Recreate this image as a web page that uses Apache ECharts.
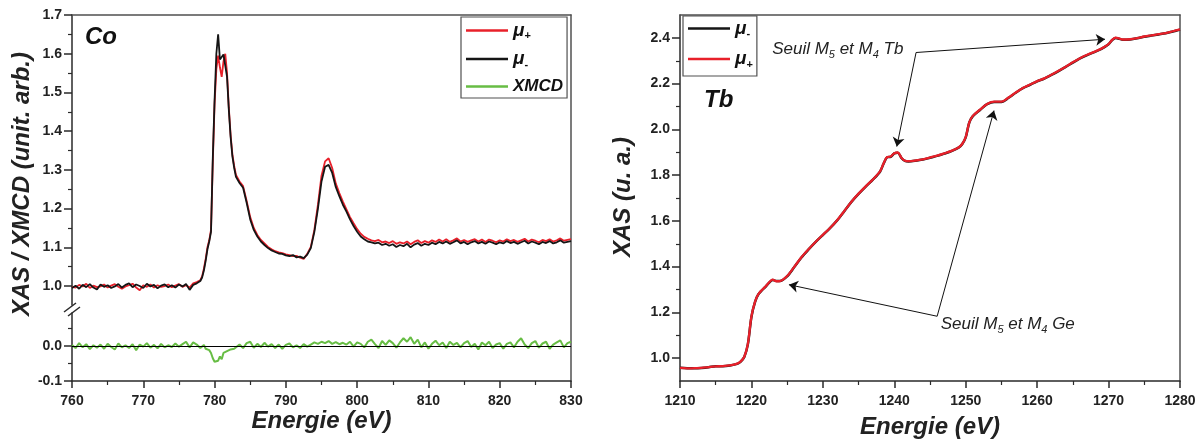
<!DOCTYPE html>
<html><head><meta charset="utf-8">
<script src="https://cdn.jsdelivr.net/npm/echarts@6/dist/echarts.min.js"></script>
<style>html,body{margin:0;padding:0;background:#fff}#c{width:1203px;height:445px}</style>
</head><body><div id="c"></div>
<script>
// ---------- Co L-edge data ----------
const coEnergy = [760,760.5,761,761.5,762,762.5,763,763.5,764,764.5,765,765.5,766,766.5,767,767.5,768,768.5,769,769.5,770,770.5,771,771.5,772,772.5,773,773.5,774,774.5,775,775.5,776,776.5,777,777.5,778,
778.25,778.5,778.75,779,779.25,779.5,779.75,780,780.25,780.5,780.75,781,781.25,781.5,781.75,782,782.25,782.5,782.75,783,
783.5,784,784.5,785,785.5,786,786.5,787,787.5,788,788.5,789,789.5,790,790.5,791,791.5,792,792.5,793,793.5,794,794.5,795,795.5,796,796.5,797,797.5,798,798.5,799,799.5,800,
800.5,801,801.5,802,802.5,803,803.5,804,804.5,805,805.5,806,806.5,807,807.5,808,808.5,809,809.5,810,
810.5,811,811.5,812,812.5,813,813.5,814,814.5,815,815.5,816,816.5,817,817.5,818,818.5,819,819.5,820,
820.5,821,821.5,822,822.5,823,823.5,824,824.5,825,825.5,826,826.5,827,827.5,828,828.5,829,829.5,830];

const coPlus = [0.998,0.996,1.003,0.999,1.006,0.995,1.001,0.997,0.999,1.004,0.996,1.001,1.005,0.998,0.993,0.999,1.002,1.006,0.996,0.989,1.002,0.998,1.004,0.996,1.002,0.998,1.000,1.004,0.997,1.001,1.005,0.998,1.002,0.996,1.007,1.010,1.015,
1.025,1.045,1.070,1.100,1.118,1.145,1.320,1.470,1.560,1.595,1.565,1.540,1.580,1.600,1.550,1.460,1.390,1.340,1.310,1.287,
1.270,1.258,1.220,1.178,1.150,1.132,1.119,1.110,1.101,1.095,1.090,1.087,1.085,1.082,1.080,1.077,1.078,1.073,1.070,1.083,1.101,1.145,1.210,1.285,1.322,1.330,1.305,1.265,1.240,1.218,1.198,1.178,1.162,1.147,
1.135,1.127,1.122,1.118,1.116,1.119,1.113,1.115,1.111,1.116,1.109,1.113,1.110,1.115,1.108,1.114,1.118,1.111,1.116,1.112,
1.118,1.114,1.120,1.115,1.121,1.114,1.118,1.123,1.115,1.119,1.114,1.118,1.121,1.115,1.120,1.114,1.120,1.117,1.113,1.118,
1.115,1.121,1.116,1.119,1.114,1.118,1.122,1.115,1.120,1.117,1.113,1.119,1.116,1.121,1.115,1.118,1.123,1.117,1.119,1.121];

const coMinus = [0.995,1.001,0.993,1.003,0.997,1.005,0.996,0.991,1.004,0.998,1.002,0.995,0.999,1.005,0.996,1.003,1.007,0.997,1.004,1.000,0.995,1.006,0.999,1.003,0.994,1.001,1.004,0.997,1.002,0.996,1.004,0.999,1.005,0.990,1.003,1.007,1.013,
1.022,1.040,1.065,1.095,1.115,1.140,1.330,1.480,1.600,1.650,1.585,1.580,1.598,1.602,1.540,1.455,1.385,1.335,1.305,1.282,
1.266,1.254,1.215,1.172,1.145,1.128,1.115,1.106,1.098,1.092,1.088,1.084,1.083,1.079,1.077,1.080,1.074,1.076,1.072,1.081,1.098,1.140,1.200,1.270,1.308,1.313,1.292,1.256,1.232,1.210,1.192,1.172,1.155,1.140,
1.128,1.121,1.115,1.113,1.110,1.112,1.106,1.109,1.104,1.108,1.101,1.106,1.103,1.109,1.100,1.107,1.111,1.104,1.109,1.106,
1.112,1.108,1.114,1.110,1.115,1.109,1.113,1.118,1.110,1.114,1.108,1.113,1.116,1.110,1.114,1.109,1.115,1.112,1.108,1.113,
1.110,1.116,1.111,1.114,1.109,1.113,1.117,1.110,1.115,1.112,1.108,1.114,1.111,1.116,1.110,1.113,1.118,1.112,1.114,1.116];

const xmcd = [0.003,-0.006,0.008,-0.004,0.005,-0.009,0.002,-0.005,0.004,-0.008,0.006,-0.003,-0.010,0.007,-0.004,0.002,-0.006,0.005,-0.012,0.004,-0.002,0.008,-0.005,0.003,-0.007,0.006,-0.004,0.002,-0.003,0.007,-0.002,0.005,0.012,-0.004,0.010,0.004,-0.006,
-0.010,0.003,-0.008,-0.004,-0.012,-0.020,-0.035,-0.045,-0.050,-0.042,-0.030,-0.038,-0.020,-0.025,-0.015,-0.020,-0.010,-0.015,-0.008,-0.012,
0.004,-0.006,0.008,0.012,-0.005,0.006,-0.003,0.009,-0.002,0.005,-0.006,0.004,-0.008,0.003,0.007,-0.004,0.002,-0.006,0.005,-0.002,0.004,0.010,0.006,0.012,0.008,0.014,0.006,0.011,0.005,0.009,0.004,0.012,-0.002,0.010,
0.006,-0.004,0.012,0.018,0.005,-0.006,0.014,0.003,0.016,0.008,-0.005,0.010,0.022,0.012,0.025,0.006,0.018,-0.004,0.010,-0.008,
0.006,0.015,0.002,0.010,-0.006,0.012,0.003,0.009,-0.004,0.008,0.014,-0.003,0.006,-0.010,0.010,0.002,0.012,-0.006,0.004,0.008,
-0.008,0.006,0.010,-0.004,0.012,0.022,0.004,-0.006,0.008,0.014,-0.005,0.007,0.012,-0.008,0.004,0.010,0.016,-0.004,0.008,0.012];

// ---------- Tb M-edge data ----------
const tbEnergy = [1210,1211,1212,1213,1214,1215,1216,1217,1218,1218.5,1219,1219.5,1220,1220.5,1221,1222,1223,1223.5,1224,1225,1226,1227,1228,1229,1230,1231,1232,1233,1234,1235,1236,1237,1238,1238.5,1239,1239.5,1240,1240.5,1241,1241.5,1242,1243,1244,1245,1246,1247,1248,1249,1249.5,1250,1250.5,1251,1252,1253,1254,1255,1256,1257,1258,1259,1260,1261,1262,1263,1264,1265,1266,1267,1268,1269,1270,1270.5,1271,1271.5,1272,1273,1274,1275,1276,1277,1278,1279,1280];
const tbMinus = [0.958,0.956,0.956,0.957,0.960,0.965,0.965,0.968,0.975,0.985,1.005,1.060,1.180,1.245,1.280,1.313,1.342,1.337,1.337,1.358,1.398,1.440,1.475,1.508,1.538,1.568,1.602,1.642,1.683,1.718,1.750,1.780,1.815,1.850,1.878,1.880,1.895,1.898,1.875,1.862,1.860,1.863,1.868,1.876,1.884,1.894,1.905,1.920,1.935,1.965,2.030,2.058,2.085,2.110,2.120,2.120,2.138,2.160,2.180,2.195,2.210,2.222,2.238,2.255,2.273,2.292,2.310,2.325,2.338,2.352,2.372,2.390,2.400,2.396,2.392,2.393,2.398,2.405,2.410,2.415,2.420,2.428,2.436];
const tbPlus = [0.957,0.955,0.956,0.957,0.961,0.964,0.965,0.968,0.976,0.986,1.006,1.062,1.182,1.246,1.281,1.314,1.343,1.336,1.337,1.359,1.399,1.441,1.476,1.509,1.539,1.569,1.603,1.643,1.684,1.719,1.751,1.781,1.816,1.851,1.879,1.881,1.896,1.899,1.876,1.863,1.861,1.864,1.869,1.877,1.885,1.895,1.906,1.921,1.936,1.966,2.031,2.059,2.086,2.111,2.121,2.121,2.139,2.161,2.181,2.196,2.211,2.223,2.239,2.256,2.274,2.293,2.311,2.326,2.339,2.353,2.373,2.391,2.401,2.397,2.393,2.394,2.399,2.406,2.411,2.416,2.421,2.429,2.437];

// ---------- ticks ----------
const coUpperTicks = [1.0,1.1,1.2,1.3,1.4,1.5,1.6,1.7];
const coUpperMinor = [1.05,1.15,1.25,1.35,1.45,1.55,1.65];
const coLowerTicks = [-0.1,0.0];
const coLowerMinor = [-0.05,0.05];
const tbTicks = [1.0,1.2,1.4,1.6,1.8,2.0,2.2,2.4];
const tbMinor = [1.1,1.3,1.5,1.7,1.9,2.1,2.3];

// ---------- annotations (data coords) ----------
const annTbCorner = [1243.05, 2.336];
const annTbTips = [[1269.5, 2.394], [1240.35, 1.925]];
const annGeCorner = [1246.0, 1.183];
const annGeTips = [[1225.25, 1.321], [1253.96, 2.082]];
const annTbLabelAt = [1222.9, 2.351];
const annGeLabelAt = [1246.5, 1.147];

const legendLabels = {'Co μ+':'{m|μ}{s|+}','Co μ-':'{m|μ}{s|-}','XMCD':'{x|XMCD}','Tb μ-':'{m|μ}{s|-}','Tb μ+':'{m|μ}{s|+}'};

const FONT = 'Liberation Sans';
const RED = '#e8202a', BLACK = '#151515', GREEN = '#67bd44', AX = '#2a2a2a', FRAME = '#505050';
const zip = (xs, ys) => xs.map((x, i) => [x, ys[i]]);

const lbl = {fontFamily: FONT, fontWeight: 'bold', fontSize: 14, color: '#222'};
function mainY(grid, min, max, ticks) {
  return {type:'value', gridIndex:grid, min:min, max:max, position:'left',
    axisLine:{show:true, onZero:false, lineStyle:{color:AX, width:1.5}},
    axisTick:{show:true, inside:false, length:8, customValues:ticks, lineStyle:{color:AX, width:1.5}},
    axisLabel:Object.assign({show:true, margin:10, customValues:ticks, formatter:v => Number(v).toFixed(1)}, lbl),
    splitLine:{show:false}};
}
function minorY(grid, min, max, ticks) {
  return {type:'value', gridIndex:grid, min:min, max:max, position:'left',
    axisLine:{show:false, onZero:false},
    axisTick:{show:true, inside:false, length:4, customValues:ticks, lineStyle:{color:AX, width:1.2}},
    axisLabel:{show:false}, splitLine:{show:false}};
}
function mainX(grid, min, max, name, gap) {
  return {type:'value', gridIndex:grid, min:min, max:max, interval:10, position:'bottom',
    name:name, nameLocation:'middle', nameGap:gap,
    nameTextStyle:{fontFamily:FONT, fontWeight:'bold', fontStyle:'italic', fontSize:24, color:'#222'},
    axisLine:{show:true, onZero:false, lineStyle:{color:AX, width:1.5}},
    axisTick:{show:true, inside:false, length:7, lineStyle:{color:AX, width:1.5}},
    minorTick:{show:true, splitNumber:2, length:4, lineStyle:{color:AX, width:1.2}},
    axisLabel:Object.assign({show:true, margin:13, formatter:v => String(v)}, lbl),
    splitLine:{show:false}, minorSplitLine:{show:false}};
}
function frameX(grid, min, max) {
  return {type:'value', gridIndex:grid, min:min, max:max, position:'top',
    axisLine:{show:true, onZero:false, lineStyle:{color:FRAME, width:1.5}},
    axisTick:{show:false}, axisLabel:{show:false}, splitLine:{show:false}};
}
function frameY(grid, min, max) {
  return {type:'value', gridIndex:grid, min:min, max:max, position:'right',
    axisLine:{show:true, onZero:false, lineStyle:{color:FRAME, width:1.5}},
    axisTick:{show:false}, axisLabel:{show:false}, splitLine:{show:false}};
}

const legendRich = {
  m:{fontFamily:FONT, fontWeight:'bold', fontStyle:'italic', fontSize:19, lineHeight:22, color:'#111', verticalAlign:'middle'},
  s:{fontFamily:FONT, fontWeight:'bold', fontSize:11, lineHeight:9, color:'#111', verticalAlign:'bottom'},
  x:{fontFamily:FONT, fontWeight:'bold', fontStyle:'italic', fontSize:17, lineHeight:22, color:'#111', verticalAlign:'middle'}
};

const chart = echarts.init(document.getElementById('c'), null, {renderer:'canvas'});
const option = {
  animation:false,
  backgroundColor:'#fff',
  grid:[
    {left:72, top:15, width:499, height:290},
    {left:72, top:313, width:499, height:68},
    {left:72, top:15, width:499, height:366},
    {left:680, top:15, width:500, height:366}
  ],
  xAxis:[
    {type:'value', gridIndex:0, min:760, max:830, show:false, axisLine:{onZero:false}, splitLine:{show:false}},
    mainX(1, 760, 830, 'Energie (eV)', 24),
    frameX(2, 0, 1),
    mainX(3, 1210, 1280, 'Energie (eV)', 34),
    frameX(3, 1210, 1280)
  ],
  yAxis:[
    mainY(0, 0.951, 1.7, coUpperTicks),
    minorY(0, 0.951, 1.7, coUpperMinor),
    mainY(1, -0.1, 0.094, coLowerTicks),
    minorY(1, -0.1, 0.094, coLowerMinor),
    frameY(2, 0, 1),
    mainY(3, 0.9, 2.5, tbTicks),
    minorY(3, 0.9, 2.5, tbMinor),
    frameY(3, 0.9, 2.5)
  ],
  legend:[
    {data:['Co μ+','Co μ-','XMCD'], orient:'vertical', left:461, top:17, icon:'rect', itemWidth:42, itemHeight:2.5, itemGap:8,
     padding:[4,4,3,5], borderColor:FRAME, borderWidth:1.2, selectedMode:false,
     formatter:n => legendLabels[n], textStyle:{rich:legendRich}},
    {data:['Tb μ-','Tb μ+'], orient:'vertical', left:683, top:16, icon:'rect', itemWidth:42, itemHeight:2.5, itemGap:10,
     padding:[3,4,6,5], borderColor:FRAME, borderWidth:1.2, selectedMode:false,
     formatter:n => legendLabels[n], textStyle:{rich:legendRich}}
  ],
  series:[
    {name:'Co μ+', type:'line', xAxisIndex:0, yAxisIndex:0, data:zip(coEnergy, coPlus), showSymbol:false, color:RED, lineStyle:{color:RED, width:1.8}},
    {name:'Co μ-', type:'line', xAxisIndex:0, yAxisIndex:0, data:zip(coEnergy, coMinus), showSymbol:false, color:BLACK, lineStyle:{color:BLACK, width:1.8}},
    {name:'zero', type:'line', xAxisIndex:1, yAxisIndex:2, data:[], silent:true,
     markLine:{silent:true, symbol:['none','none'], label:{show:false}, lineStyle:{color:'#000', width:1, type:'solid'}, data:[{yAxis:0}]}},
    {name:'XMCD', type:'line', xAxisIndex:1, yAxisIndex:2, data:zip(coEnergy, xmcd), showSymbol:false, color:GREEN, lineStyle:{color:GREEN, width:2}},
    {name:'Tb μ-', type:'line', xAxisIndex:3, yAxisIndex:5, data:zip(tbEnergy, tbMinus), showSymbol:false, smooth:0.3, color:BLACK, lineStyle:{color:BLACK, width:2.5}},
    {name:'Tb μ+', type:'line', xAxisIndex:3, yAxisIndex:5, data:zip(tbEnergy, tbPlus), showSymbol:false, smooth:0.3, color:RED, lineStyle:{color:RED, width:2.3},
     markLine:{silent:true, symbol:['none','arrow'], symbolSize:9, label:{show:false}, lineStyle:{color:'#111', width:1, type:'solid'},
       data:[
         [{coord:annTbCorner},{coord:annTbTips[0]}],
         [{coord:annTbCorner},{coord:annTbTips[1]}],
         [{coord:annGeCorner},{coord:annGeTips[0]}],
         [{coord:annGeCorner},{coord:annGeTips[1]}]
       ]}}
  ]
};
chart.setOption(option);

const px = p => chart.convertToPixel({xAxisIndex:3, yAxisIndex:5}, p);
const annRich = {
  t:{fontFamily:FONT, fontStyle:'italic', fontSize:17, lineHeight:22, fill:'#222', verticalAlign:'middle'},
  s:{fontFamily:FONT, fontStyle:'italic', fontSize:11, lineHeight:9, fill:'#222', verticalAlign:'bottom'}
};
const tbAt = px(annTbLabelAt), geAt = px(annGeLabelAt);
const titleStyle = {fontFamily:FONT, fontWeight:'bold', fontStyle:'italic', fontSize:24, fill:'#222', align:'center', verticalAlign:'middle'};
chart.setOption({graphic:[
  {type:'text', x:22, y:184, rotation:Math.PI/2, style:Object.assign({text:'XAS / XMCD (unit. arb.)'}, titleStyle)},
  {type:'text', x:623, y:197, rotation:Math.PI/2, style:Object.assign({text:'XAS (u. a.)'}, titleStyle)},
  {type:'text', x:85, y:37, style:{text:'Co', fontFamily:FONT, fontWeight:'bold', fontStyle:'italic', fontSize:24, fill:'#111', align:'left', verticalAlign:'middle'}},
  {type:'text', x:704, y:100, style:{text:'Tb', fontFamily:FONT, fontWeight:'bold', fontStyle:'italic', fontSize:24, fill:'#111', align:'left', verticalAlign:'middle'}},
  {type:'line', shape:{x1:64, y1:312, x2:76, y2:303}, style:{stroke:AX, lineWidth:1.5}},
  {type:'line', shape:{x1:68, y1:316, x2:80, y2:307}, style:{stroke:AX, lineWidth:1.5}},
  {type:'text', x:tbAt[0], y:tbAt[1], style:{text:'{t|Seuil M}{s|5}{t| et M}{s|4}{t| Tb}', rich:annRich, align:'left', verticalAlign:'middle'}},
  {type:'text', x:geAt[0], y:geAt[1], style:{text:'{t|Seuil M}{s|5}{t| et M}{s|4}{t| Ge}', rich:annRich, align:'left', verticalAlign:'middle'}}
]});
</script></body></html>
